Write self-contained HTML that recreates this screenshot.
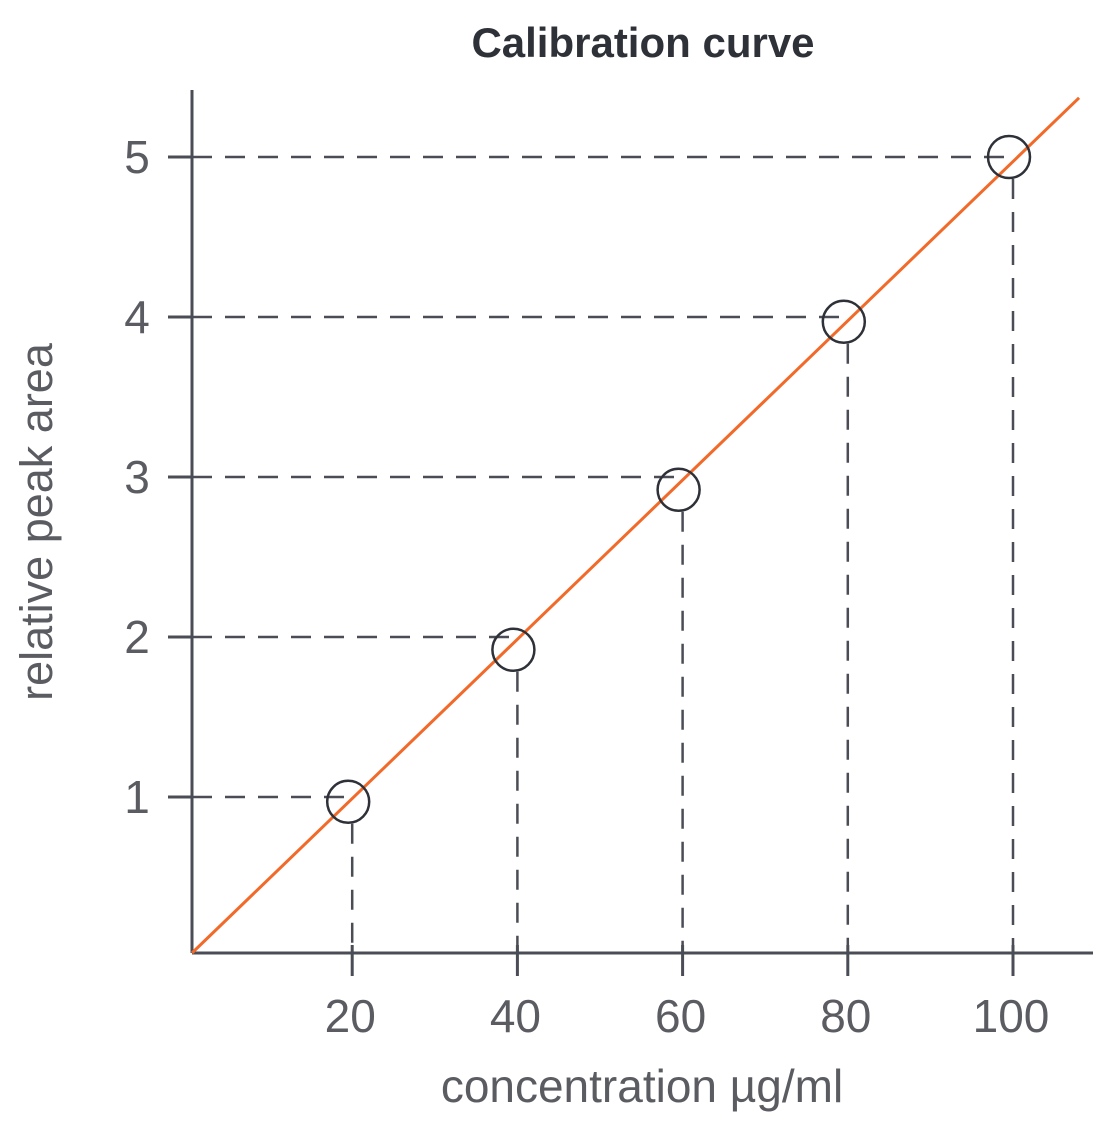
<!DOCTYPE html>
<html><head><meta charset="utf-8"><style>
html,body{margin:0;padding:0;background:#fff;}
svg{display:block;}
text{font-family:"Liberation Sans",sans-serif;}
</style></head><body>
<svg width="1116" height="1128" viewBox="0 0 1116 1128">
<text x="643" y="57" text-anchor="middle" font-family="'Liberation Sans Narrow','Liberation Sans',sans-serif" font-weight="bold" font-size="42" fill="#2e3138">Calibration curve</text>
<text transform="translate(52,522) rotate(-90)" text-anchor="middle" font-size="45" fill="#5a5c62">relative peak area</text>
<text x="642" y="1102" text-anchor="middle" font-size="46" fill="#5a5c62">concentration µg/ml</text>
<g id="plot"></g>
</svg>
<script>
const xTicks=[20,40,60,80,100];
const yTicks=[1,2,3,4,5];
const concentrations=[20,40,60,80,100];
const peakAreas=[0.97,1.92,2.92,3.97,5.0];
const fitEnd=[108,5.37];
const X0=192,Y0=953;
function xs(v){return 187+8.26*v;}
function ys(v){return 957-160*v;}
const g=document.getElementById('plot');
const NS='http://www.w3.org/2000/svg';
function mk(t,a){const e=document.createElementNS(NS,t);for(const k in a)e.setAttribute(k,a[k]);g.appendChild(e);return e;}
const ax='#4a4d55';
concentrations.forEach((c,i)=>{
  const d=mk('line',{x1:X0,y1:ys(yTicks[i]),x2:xs(c),y2:ys(yTicks[i]),stroke:ax,'stroke-width':2.5,'stroke-dasharray':'20 13'});
  
  
  const v=mk('line',{x1:xs(c),y1:ys(peakAreas[i])+22,x2:xs(c),y2:Y0,stroke:ax,'stroke-width':2.5,'stroke-dasharray':'20 13'});
  
  
});
let a=mk('line',{x1:X0,y1:90,x2:X0,y2:Y0,stroke:ax,'stroke-width':3});


a=mk('line',{x1:X0,y1:Y0,x2:1093,y2:Y0,stroke:ax,'stroke-width':3});


xTicks.forEach(t=>{
  const l=mk('line',{x1:xs(t),y1:Y0-8,x2:xs(t),y2:976,stroke:ax,'stroke-width':3});
  
  
  const tx=mk('text',{x:xs(t)-2,y:1032,'text-anchor':'middle','font-size':46,fill:'#5a5c62'});
  tx.textContent=t;
  
  
});
yTicks.forEach(t=>{
  const l=mk('line',{x1:168,y1:ys(t),x2:X0,y2:ys(t),stroke:ax,'stroke-width':3});
  
  
  const tx=mk('text',{x:137,y:ys(t)+16,'text-anchor':'middle','font-size':46,fill:'#5a5c62'});
  tx.textContent=t;
  
  
});
const f=mk('line',{x1:X0,y1:Y0,x2:xs(fitEnd[0]),y2:ys(fitEnd[1]),stroke:'#f26a2a','stroke-width':3});


concentrations.forEach((c,i)=>{
  const p=mk('circle',{cx:xs(c)-4,cy:ys(peakAreas[i]),r:21,fill:'none',stroke:'#2e3138','stroke-width':2.5});
  
  
});
</script>
</body></html>
